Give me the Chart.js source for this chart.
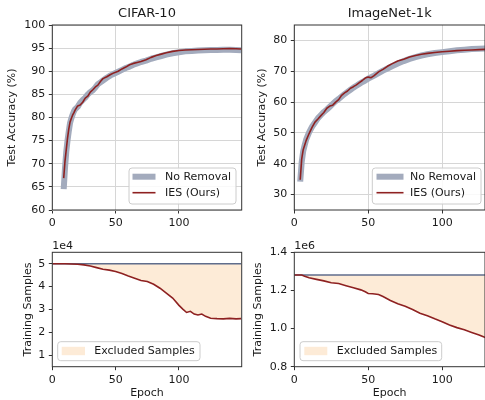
<!DOCTYPE html>
<html><head><meta charset="utf-8">
<script src="https://cdn.jsdelivr.net/npm/chart.js@4/dist/chart.umd.min.js"></script>
<style>
html,body{margin:0;padding:0;background:#fff;}
#wrap{position:relative;width:485px;height:400px;overflow:hidden;background:#fff;}
#wrap canvas{position:absolute;left:0;top:0;}
</style></head><body>
<div id="wrap">
<canvas id="cA" width="485" height="400"></canvas>
<canvas id="cB" width="485" height="400"></canvas>
<canvas id="cC" width="485" height="400"></canvas>
<canvas id="cD" width="485" height="400"></canvas>
</div>
<script>
// ---------------- DATA ----------------
const cifarAccEpochs = [9,10,11,12,13,14,15,16,17,18,20,22,24,26,28,30,32,34,36,38,40,43,46,49,52,55,58,61,64,67,70,74,78,82,86,90,95,100,105,110,115,120,125,130,135,140,145,149];
const cifarAccNoRemoval = [64.5,69.0,72.5,75.0,77.0,78.8,79.8,80.6,81.3,81.8,82.3,83.2,83.8,84.3,85.0,85.5,85.9,86.5,87.2,87.6,88.0,88.6,89.1,89.5,89.9,90.3,90.7,91.0,91.4,91.7,92.0,92.3,92.7,93.0,93.3,93.6,93.9,94.1,94.3,94.4,94.5,94.55,94.6,94.6,94.65,94.65,94.6,94.55];
const cifarAccIES = [66.9,70.5,73.0,75.5,77.5,79.0,79.8,80.5,81.0,81.6,82.5,82.7,83.3,84.2,84.6,85.5,86.0,86.6,87.0,87.8,88.4,88.8,89.3,89.7,90.0,90.5,90.9,91.4,91.7,91.9,92.1,92.5,93.0,93.4,93.7,94.0,94.3,94.5,94.6,94.65,94.7,94.75,94.8,94.8,94.85,94.9,94.85,94.8];

const imagenetAccEpochs = [4,5,6,7,8,10,12,14,16,18,20,22,24,26,28,30,32,34,36,38,40,42,44,46,48,50,52,54,57,60,63,66,70,74,78,82,86,90,95,100,105,110,115,120,125,130];
const imagenetAccNoRemoval = [34.2,40.5,44.0,46.0,47.8,50.2,52.0,53.4,54.8,55.8,56.8,57.6,58.5,59.4,60.3,61.0,61.8,62.6,63.3,64.0,64.7,65.3,65.9,66.5,67.0,67.6,68.1,68.6,69.4,70.2,70.9,71.6,72.5,73.3,74.0,74.6,75.1,75.5,75.9,76.2,76.5,76.8,77.0,77.2,77.3,77.4];
const imagenetAccIES = [34.8,41.5,44.5,46.0,47.5,49.8,51.8,53.5,54.5,55.6,56.6,58.0,58.7,59.0,60.0,60.8,62.2,63.0,63.6,64.5,65.0,65.6,66.3,67.0,67.8,68.1,67.9,68.6,69.8,70.6,71.6,72.4,73.3,73.9,74.6,75.1,75.5,75.8,76.1,76.3,76.5,76.7,76.8,76.9,77.0,77.1];

const cifarTotal = 50000;
const cifarSampleEpochs = [0,5,10,15,20,25,30,35,40,45,50,55,60,65,70,75,80,85,90,95,100,103,106,109,112,115,118,121,125,130,135,140,145,149];
const cifarSamplesIES = [50000,50000,50000,49900,49800,49500,49000,48300,47600,47200,46600,45700,44600,43700,42700,42200,41000,39300,37200,35000,31800,30200,28700,29200,28000,27600,28000,27000,26200,26000,25900,26100,25900,26000];

const imagenetTotal = 1281167;
const imagenetSampleEpochs = [0,5,7,10,15,20,25,30,35,40,45,48,50,53,57,60,65,70,75,80,85,90,95,100,105,110,115,120,125,130];
const imagenetSamplesIES = [1281167,1281000,1275000,1266000,1258000,1250000,1240000,1236000,1225000,1214000,1203000,1193000,1184000,1183000,1179000,1168000,1147000,1130000,1117000,1100000,1080000,1067000,1051000,1036000,1019000,1005000,994000,980000,966000,950000];

const epochTicks = [0,50,100];
const cifarAccTicks = [60,65,70,75,80,85,90,95,100];
const imagenetAccTicks = [30,40,50,60,70,80];
const cifarSampleTicks = [10000,20000,30000,40000,50000];
const cifarSampleTickLabels = ['1','2','3','4','5'];
const imagenetSampleTicks = [800000,1000000,1200000,1400000];
const imagenetSampleTickLabels = ['0.8','1.0','1.2','1.4'];

// ---------------- STYLE ----------------
const FONT = "'DejaVu Sans', sans-serif";
const FS = 11;
Chart.defaults.font.family = FONT;
Chart.defaults.font.size = FS;
Chart.defaults.color = '#1a1a1a';
Chart.defaults.animation = false;

const C_NR = '#a3abbd';
const C_IES = '#8e2121';
const C_TOTAL = '#5f6d8c';
const C_FILL = '#fdebd7';
const C_GRID = '#d6d6d6';
const C_AXIS = '#333333';

const pts = (xs, ys) => xs.map((x, i) => ({x: x, y: ys[i]}));

const framePlugin = {
  id: 'frame',
  afterDraw(chart, args, o) {
    const ctx = chart.ctx, a = chart.chartArea;
    ctx.save();
    ctx.strokeStyle = C_AXIS; ctx.lineWidth = 1;
    ctx.strokeRect(a.left, a.top, a.right - a.left, a.bottom - a.top);
    ctx.font = FS + 'px ' + FONT;
    ctx.fillStyle = '#1a1a1a';
    if (o.offsetText) {
      ctx.textAlign = 'left'; ctx.textBaseline = 'bottom';
      ctx.fillText(o.offsetText, a.left, a.top - 1);
    }
    const L = o.legend;
    if (L) {
      ctx.beginPath();
      ctx.roundRect(L.x0, L.y0, L.x1 - L.x0, L.y1 - L.y0, 3);
      ctx.fillStyle = 'rgba(255,255,255,0.85)'; ctx.fill();
      ctx.strokeStyle = '#cccccc'; ctx.lineWidth = 1; ctx.stroke();
      L.items.forEach((dsIndex, i) => {
        const ds = chart.data.datasets[dsIndex];
        const y = L.rows[i];
        if (L.kind === 'rect') {
          ctx.fillStyle = ds.backgroundColor;
          ctx.fillRect(L.sx0, y - 4.2, L.sx1 - L.sx0, 8.4);
        } else {
          ctx.beginPath();
          ctx.strokeStyle = ds.borderColor; ctx.lineWidth = ds.borderWidth;
          ctx.moveTo(L.sx0, y); ctx.lineTo(L.sx1, y); ctx.stroke();
        }
        ctx.fillStyle = '#1a1a1a';
        ctx.textAlign = 'left'; ctx.textBaseline = 'middle';
        ctx.fillText(ds.label, L.tx, y + 0.5);
      });
    }
    ctx.restore();
  }
};

function xScale(xmax, xh, withGrid, title) {
  return {
    type: 'linear', min: 0, max: xmax,
    afterBuildTicks: s => { s.ticks = epochTicks.map(v => ({value: v})); },
    afterFit: s => { s.height = xh; },
    grid: { display: true, drawOnChartArea: withGrid, color: C_GRID, lineWidth: 1, tickColor: C_AXIS, tickLength: 3.5 },
    border: { display: false },
    ticks: { padding: 3, maxRotation: 0, autoSkip: false, callback: v => String(v) },
    title: title ? { display: true, text: title, padding: {top: 0, bottom: 0}, font: {size: FS} } : { display: false }
  };
}
function yScale(min, max, ticks, labels, yw, titleText, titlePad, withGrid) {
  return {
    type: 'linear', min: min, max: max,
    afterBuildTicks: s => { s.ticks = ticks.map(v => ({value: v})); },
    afterFit: s => { s.width = yw; },
    grid: { display: true, drawOnChartArea: withGrid, color: C_GRID, lineWidth: 1, tickColor: C_AXIS, tickLength: 3.5 },
    border: { display: false },
    ticks: { padding: 3.5, autoSkip: false, callback: v => labels ? labels[ticks.indexOf(v)] : String(v) },
    title: { display: true, text: titleText, padding: {top: titlePad, bottom: 0}, font: {size: FS} }
  };
}

function accChart(id, cfg) {
  return new Chart(document.getElementById(id), {
    type: 'line',
    data: { datasets: [
      { label: 'IES (Ours)', data: pts(cfg.epochs, cfg.ies), borderColor: C_IES, borderWidth: 1.6, pointRadius: 0, tension: 0, fill: false, borderJoinStyle: 'round' },
      { label: 'No Removal', data: pts(cfg.epochs, cfg.nr), borderColor: C_NR, borderWidth: 6, pointRadius: 0, tension: 0, fill: false, borderJoinStyle: 'round' }
    ]},
    options: {
      responsive: false, animation: false, events: [],
      layout: { padding: cfg.padding },
      plugins: {
        legend: { display: false }, tooltip: { enabled: false },
        title: { display: true, text: cfg.title, fullSize: false, font: { size: 13, weight: 'normal' }, padding: { top: 5.7, bottom: 3.7 }, color: '#1a1a1a' },
        frame: { legend: Object.assign({ items: [1, 0], kind: 'line' }, cfg.legend) }
      },
      scales: {
        x: xScale(cfg.xmax, 25, true, null),
        y: yScale(cfg.ymin, cfg.ymax, cfg.yticks, null, cfg.yw, 'Test Accuracy (%)', cfg.ytp, true)
      }
    },
    plugins: [framePlugin]
  });
}

function sampleChart(id, cfg) {
  return new Chart(document.getElementById(id), {
    type: 'line',
    data: { datasets: [
      { label: 'IES (Ours)', data: pts(cfg.epochs, cfg.ies), borderColor: C_IES, borderWidth: 1.6, pointRadius: 0, tension: 0, fill: false },
      { label: 'No Removal', data: [{x: 0, y: cfg.total}, {x: cfg.epochs[cfg.epochs.length - 1], y: cfg.total}], borderColor: C_TOTAL, borderWidth: 1.5, pointRadius: 0, tension: 0, fill: false },
      { label: 'Excluded Samples', data: pts(cfg.epochs, cfg.ies), borderWidth: 0, borderColor: 'rgba(0,0,0,0)', backgroundColor: C_FILL, pointRadius: 0, tension: 0, fill: { value: cfg.total } }
    ]},
    options: {
      responsive: false, animation: false, events: [],
      layout: { padding: cfg.padding },
      plugins: {
        legend: { display: false }, tooltip: { enabled: false }, title: { display: false },
        frame: { offsetText: cfg.offsetText, legend: Object.assign({ items: [2], kind: 'rect' }, cfg.legend) }
      },
      scales: {
        x: xScale(cfg.xmax, 33.3, false, 'Epoch'),
        y: yScale(cfg.ymin, cfg.ymax, cfg.yticks, cfg.ylabels, cfg.yw, 'Training Samples', cfg.ytp, false)
      }
    },
    plugins: [framePlugin]
  });
}

accChart('cA', {
  title: 'CIFAR-10', epochs: cifarAccEpochs, ies: cifarAccIES, nr: cifarAccNoRemoval,
  xmax: 149.5, ymin: 60, ymax: 100, yticks: cifarAccTicks, yw: 52.3, ytp: 5.7,
  padding: { left: 0, right: 243.3, top: 0, bottom: 165 },
  legend: { x0: 129, y0: 168, x1: 236, y1: 204, rows: [176.7, 192.7], sx0: 132.5, sx1: 155.5, tx: 165 }
});
accChart('cB', {
  title: 'ImageNet-1k', epochs: imagenetAccEpochs, ies: imagenetAccIES, nr: imagenetAccNoRemoval,
  xmax: 129, ymin: 25, ymax: 85, yticks: imagenetAccTicks, yw: 49.3, ytp: 10.1,
  padding: { left: 245, right: 0, top: 0, bottom: 165 },
  legend: { x0: 372.3, y0: 168, x1: 481, y1: 204, rows: [176.7, 192.7], sx0: 376.5, sx1: 403.5, tx: 410 }
});
sampleChart('cC', {
  epochs: cifarSampleEpochs, ies: cifarSamplesIES, total: cifarTotal,
  xmax: 149.5, ymin: 5000, ymax: 55000, yticks: cifarSampleTicks, ylabels: cifarSampleTickLabels, yw: 52.3, ytp: 21.1,
  offsetText: '1e4',
  padding: { left: 0, right: 243.3, top: 252.3, bottom: 0 },
  legend: { x0: 57.7, y0: 341.7, x1: 200, y1: 360.7, rows: [351], sx0: 61.7, sx1: 85, tx: 94.3 }
});
sampleChart('cD', {
  epochs: imagenetSampleEpochs, ies: imagenetSamplesIES, total: imagenetTotal,
  xmax: 129, ymin: 800000, ymax: 1400000, yticks: imagenetSampleTicks, ylabels: imagenetSampleTickLabels, yw: 49.3, ytp: 6.7,
  offsetText: '1e6',
  padding: { left: 245, right: 0, top: 252.3, bottom: 0 },
  legend: { x0: 300, y0: 341.7, x1: 441.7, y1: 360.7, rows: [351], sx0: 304.3, sx1: 327.3, tx: 336.7 }
});
</script>
</body></html>
